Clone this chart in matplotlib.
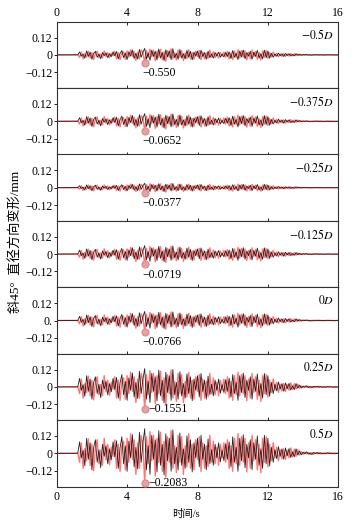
import numpy as np
import matplotlib
matplotlib.use('Agg')
import matplotlib.pyplot as plt

plt.rcParams['font.family'] = ['Liberation Serif', 'Noto Sans CJK SC']
plt.rcParams['mathtext.fontset'] = 'stix'
plt.rcParams['axes.unicode_minus'] = True

# data
panel_labels = ['$-0.5\\mathit{D}$', '$-0.375\\mathit{D}$', '$-0.25\\mathit{D}$',
                '$-0.125\\mathit{D}$', '$0\\mathit{D}$', '$0.25\\mathit{D}$', '$0.5\\mathit{D}$']
peak_vals = [-0.0550, -0.0652, -0.0377, -0.0719, -0.0766, -0.1551, -0.2083]
peak_texts = ['\u22120.550', '\u22120.0652', '\u22120.0377', '\u22120.0719',
              '\u22120.0766', '\u22120.1551', '\u22120.2083']
peak_time = 5.0
zero_labels = ['0', '0', '0', '0', '0.', '0', '0']

# shape of the traces, 0.1 s step, scaled by |peak| in each panel
black = [
    0, 0, 0, 0, 0, 0, 0, 0, 0, 0,
    0, 0, 0.01, 0.38, -0.15, 0.1, -0.42, 0.5, -0.2, 0.35,
    -0.55, 0.2, 0.45, -0.3, 0.12, -0.48, 0.3, -0.1, 0.25, -0.35,
    0.15, -0.22, 0.38, -0.12, 0.42, -0.5, 0.18, 0.55, -0.35, 0.25,
    -0.6, 0.4, -0.15, 0.62, -0.45, 0.2, -0.52, 0.7, -0.3, 0.35,
    0.82, -0.55, 0.25, -0.7, 0.6, -0.2, 0.45, -0.62, 0.75, -0.4,
    0.3, -0.72, 0.65, -0.25, 0.5, -0.6, 0.78, -0.35, 0.2, -0.55,
    0.68, -0.4, 0.15, -0.5, 0.58, -0.3, 0.45, -0.62, 0.35, -0.15,
    0.5, -0.45, 0.6, -0.2, 0.3, -0.55, 0.48, -0.35, 0.12, -0.4,
    0.3, -0.15, 0.35, -0.28, 0.1, -0.25, 0.32, -0.2, 0.38, -0.45,
    0.55, -0.3, 0.2, -0.6, 0.5, -0.25, 0.62, -0.48, 0.3, -0.15,
    0.45, -0.55, 0.35, -0.2, 0.58, -0.4, 0.15, -0.5, 0.6, -0.35,
    0.5, -0.42, 0.2, -0.3, 0.12, -0.18, 0.22, -0.1, 0.15, -0.2,
    0.18, -0.08, 0.16, -0.14, 0.05, -0.12, 0.15, -0.06, 0.08, -0.05,
    0.04, -0.02, 0.05, -0.03, 0.02, -0.04, 0.03, -0.01, 0.03, -0.02,
    0.02, -0.02, 0.01, -0.02, 0.02, -0.01, 0.01, -0.02, 0.01, -0.01,
    0.0]
red = [
    0, 0, 0, 0, 0, 0, 0, 0, 0, 0,
    0, 0, 0.01, -0.3, 0.35, -0.5, 0.15, -0.25, 0.48, -0.4,
    0.3, -0.58, 0.2, 0.45, -0.35, 0.1, -0.4, 0.5, -0.22, 0.3,
    -0.38, 0.2, -0.1, 0.45, -0.5, 0.3, -0.6, 0.25, 0.4, -0.55,
    0.5, -0.3, 0.65, -0.2, 0.45, -0.7, 0.35, -0.5, 0.6, 0.3,
    -1.0, 0.55, -0.35, 0.72, -0.25, 0.6, -0.75, 0.5, -0.3, 0.7,
    -0.6, 0.4, -0.8, 0.55, -0.3, 0.75, -0.5, 0.25, -0.65, 0.6,
    -0.3, 0.55, -0.7, 0.25, -0.45, 0.65, -0.5, 0.3, -0.55, 0.45,
    -0.2, 0.55, -0.6, 0.35, -0.5, 0.25, -0.45, 0.6, -0.3, 0.4,
    -0.35, 0.2, -0.4, 0.3, -0.15, 0.35, -0.3, 0.45, -0.5, 0.25,
    -0.6, 0.5, -0.35, 0.65, -0.4, 0.55, -0.3, 0.5, -0.62, 0.35,
    -0.5, 0.6, -0.25, 0.45, -0.55, 0.3, -0.65, 0.5, -0.3, 0.55,
    -0.45, 0.3, -0.25, 0.35, -0.15, 0.2, -0.25, 0.12, -0.18, 0.15,
    -0.2, 0.1, -0.15, 0.18, -0.12, 0.14, -0.1, 0.12, -0.06, 0.05,
    -0.03, 0.04, -0.02, 0.03, -0.04, 0.02, -0.03, 0.02, -0.02, 0.03,
    -0.02, 0.01, -0.02, 0.02, -0.01, 0.02, -0.01, 0.01, -0.02, 0.01,
    0.0]

t = np.arange(len(black)) * 0.1
black = np.array(black)
red = np.array(red)

fig = plt.figure(figsize=(3.53, 5.23), dpi=100)
left, right = 56.7 / 353, 338.3 / 353
top, bottom = 1 - 21.7 / 523, 1 - 486.5 / 523
n = len(panel_labels)
h = (top - bottom) / n
fs = 8.5

for i in range(n):
    ax = fig.add_axes([left, top - (i + 1) * h, right - left, h])
    amp = abs(peak_vals[i])
    ax.plot(t, red * amp, color='#ff1a1a', lw=1.0, alpha=0.6)
    ax.plot(t, black * amp, color='black', lw=0.6, alpha=0.85)
    ax.plot(peak_time, peak_vals[i], 'o', ms=5, mfc='#d8a8a8', mec='#f08080',
            mew=0.8, clip_on=False, zorder=5)
    if peak_vals[i] < -0.1:
        ax.annotate(peak_texts[i], (peak_time, peak_vals[i]), xytext=(3, 0),
                    textcoords='offset points', ha='left', va='center', fontsize=fs)
    else:
        ax.annotate(peak_texts[i], (peak_time, peak_vals[i]), xytext=(-1.5, -3),
                    textcoords='offset points', ha='left', va='top', fontsize=fs)
    ax.text(0.985, 0.9, panel_labels[i], transform=ax.transAxes, ha='right',
            va='top', fontsize=fs)
    ax.set_xlim(0, 16)
    ax.set_ylim(-0.23, 0.23)
    ax.set_yticks([0.12, 0, -0.12])
    ax.set_yticklabels(['0.12', zero_labels[i], '\u22120.12'])
    ax.set_xticks([0, 4, 8, 12, 16])
    ax.tick_params(axis='y', direction='out', length=2, width=0.6, labelsize=fs, pad=1)
    ax.tick_params(axis='x', direction='in', length=2.5, width=0.6, labelsize=fs)
    for sp in ax.spines.values():
        sp.set_color('#333333')
        sp.set_linewidth(0.8)
    if i == 0:
        ax.tick_params(axis='x', top=True, labeltop=True, bottom=True,
                       labelbottom=False, pad=2)
    elif i == n - 1:
        ax.tick_params(axis='x', labelbottom=True, pad=3)
    else:
        ax.tick_params(axis='x', labelbottom=False)

fig.text(15 / 353, 1 - 242 / 523, '斜45°  直径方向变形/mm', rotation=90,
         ha='center', va='center', fontsize=9.5)
fig.text(186 / 353, 1 - 514 / 523, '时间/s', ha='center', va='center',
         fontsize=7.5)

fig.savefig('out.png', dpi=100)
